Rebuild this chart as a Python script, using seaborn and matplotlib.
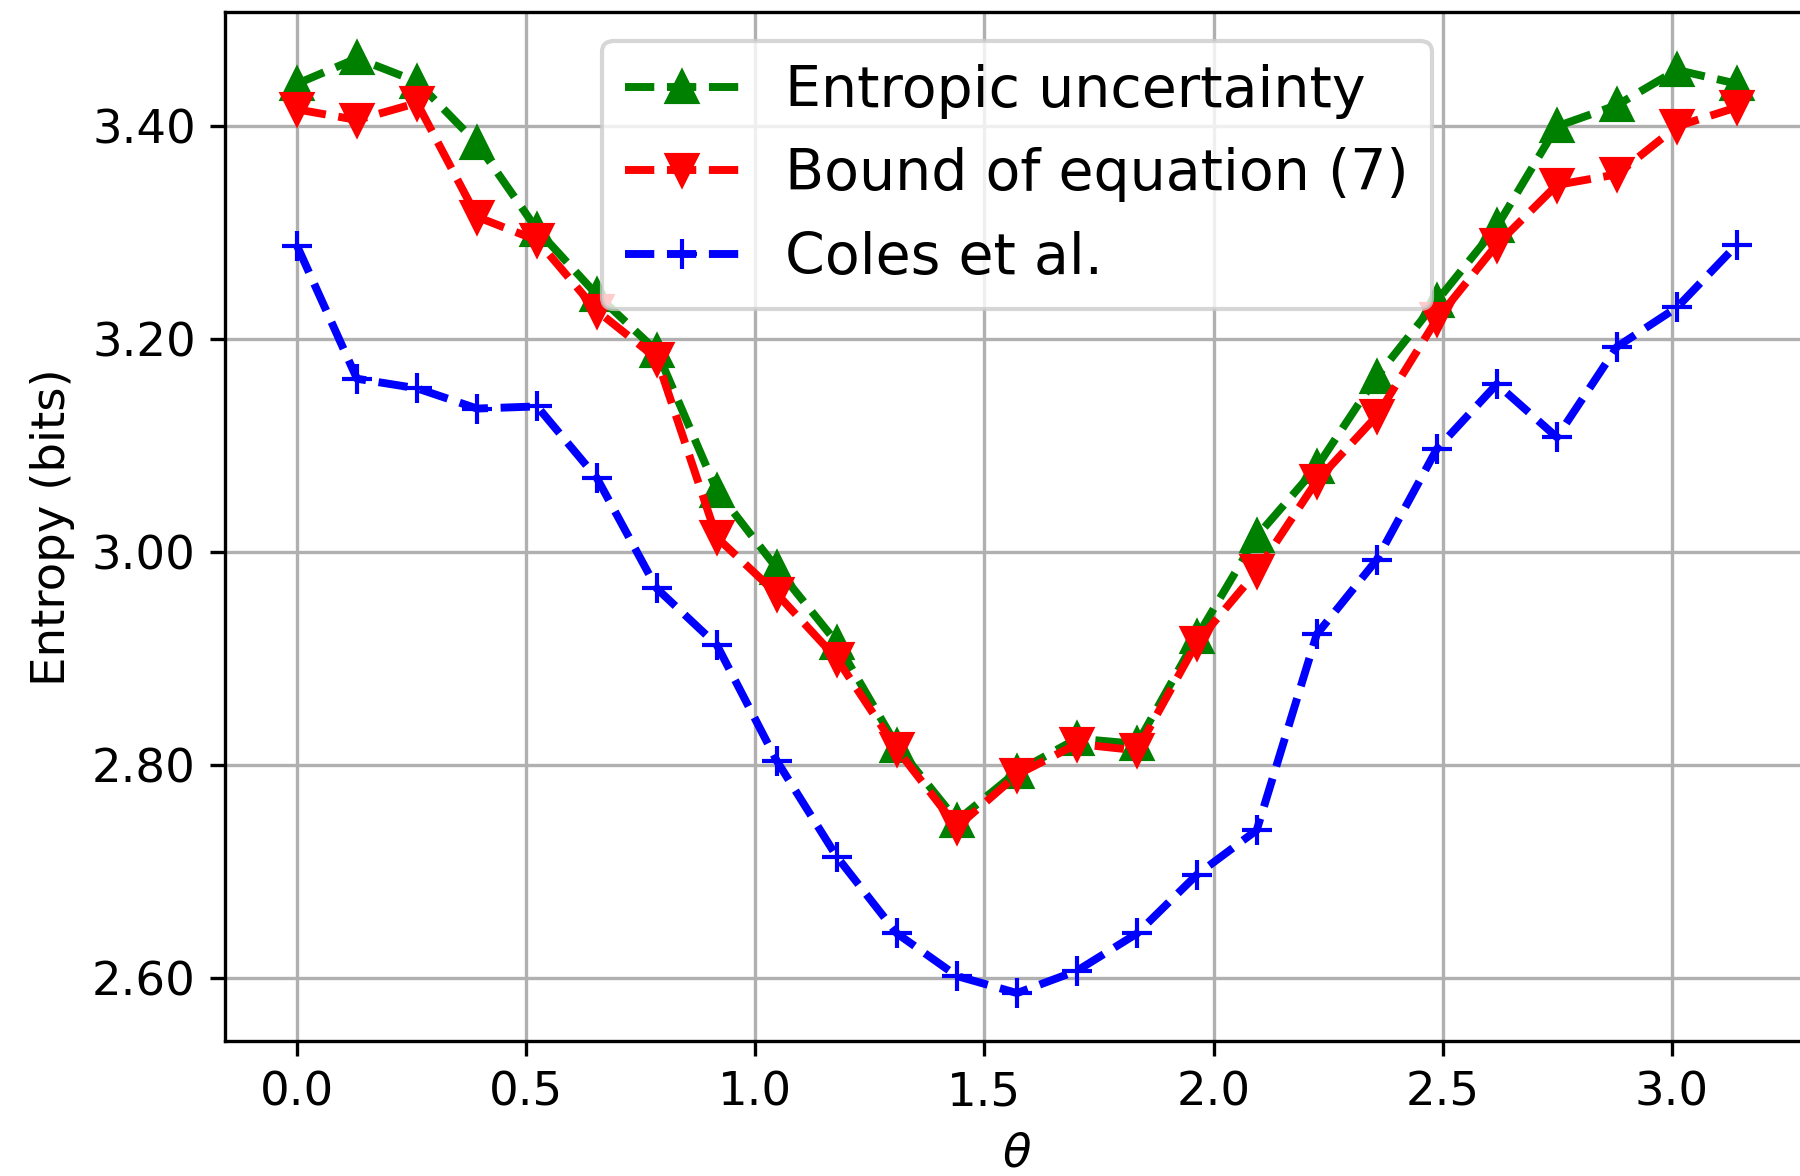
import matplotlib
matplotlib.use("Agg")
import matplotlib.pyplot as plt
import seaborn as sns

theta = [0.000, 0.131, 0.262, 0.393, 0.524, 0.654, 0.785, 0.916, 1.047,
         1.178, 1.309, 1.440, 1.571, 1.702, 1.833, 1.963, 2.094, 2.225,
         2.356, 2.487, 2.618, 2.749, 2.880, 3.011, 3.142]

entropic = [3.440, 3.464, 3.442, 3.384, 3.303, 3.242, 3.189, 3.058, 2.985,
            2.915, 2.818, 2.748, 2.794, 2.825, 2.820, 2.920, 3.015, 3.080,
            3.165, 3.236, 3.306, 3.400, 3.420, 3.453, 3.440]

bound7 = [3.416, 3.406, 3.422, 3.315, 3.293, 3.227, 3.182, 3.014, 2.961,
          2.900, 2.815, 2.742, 2.791, 2.820, 2.814, 2.915, 2.982, 3.067,
          3.128, 3.219, 3.289, 3.345, 3.355, 3.400, 3.418]

coles = [3.288, 3.163, 3.154, 3.135, 3.137, 3.070, 2.966, 2.913, 2.804,
         2.714, 2.642, 2.602, 2.586, 2.607, 2.642, 2.697, 2.739, 2.923,
         2.993, 3.097, 3.158, 3.108, 3.193, 3.230, 3.289]

labels = ["Entropic uncertainty", "Bound of equation (7)", "Coles et al."]

plt.rcParams['font.family'] = ['DejaVu Sans']
plt.rcParams['font.size'] = 11.2

fig = plt.figure(figsize=(6, 3.92), dpi=300)
ax = fig.add_axes([0.125, 0.1148, 0.880, 0.8746])

series = [(entropic, 'g', '^'), (bound7, 'r', 'v'), (coles, 'b', '+')]
for (vals, col, mk), lab in zip(series, labels):
    sns.lineplot(x=theta, y=vals, ax=ax, color=col, marker=mk, linestyle='--',
                 lw=1.9, ms=7, markeredgecolor=col, markeredgewidth=1,
                 label=lab, sort=False)

ax.set_xlim(-0.157, 3.299)
ax.set_ylim(2.541, 3.507)
ax.set_xticks([0.0, 0.5, 1.0, 1.5, 2.0, 2.5, 3.0])
ax.set_xticklabels(["0.0", "0.5", "1.0", "1.5", "2.0", "2.5", "3.0"])
ax.set_yticks([2.6, 2.8, 3.0, 3.2, 3.4])
ax.set_yticklabels(["2.60", "2.80", "3.00", "3.20", "3.40"])
ax.grid(True, color='#b0b0b0', lw=0.8)
ax.set_axisbelow(True)
ax.set_xlabel(r"$\theta$")
ax.set_ylabel("Entropy (bits)")
ax.legend(loc='upper center', fontsize=13.7, framealpha=0.8)

fig.savefig("out.png", dpi=300)
